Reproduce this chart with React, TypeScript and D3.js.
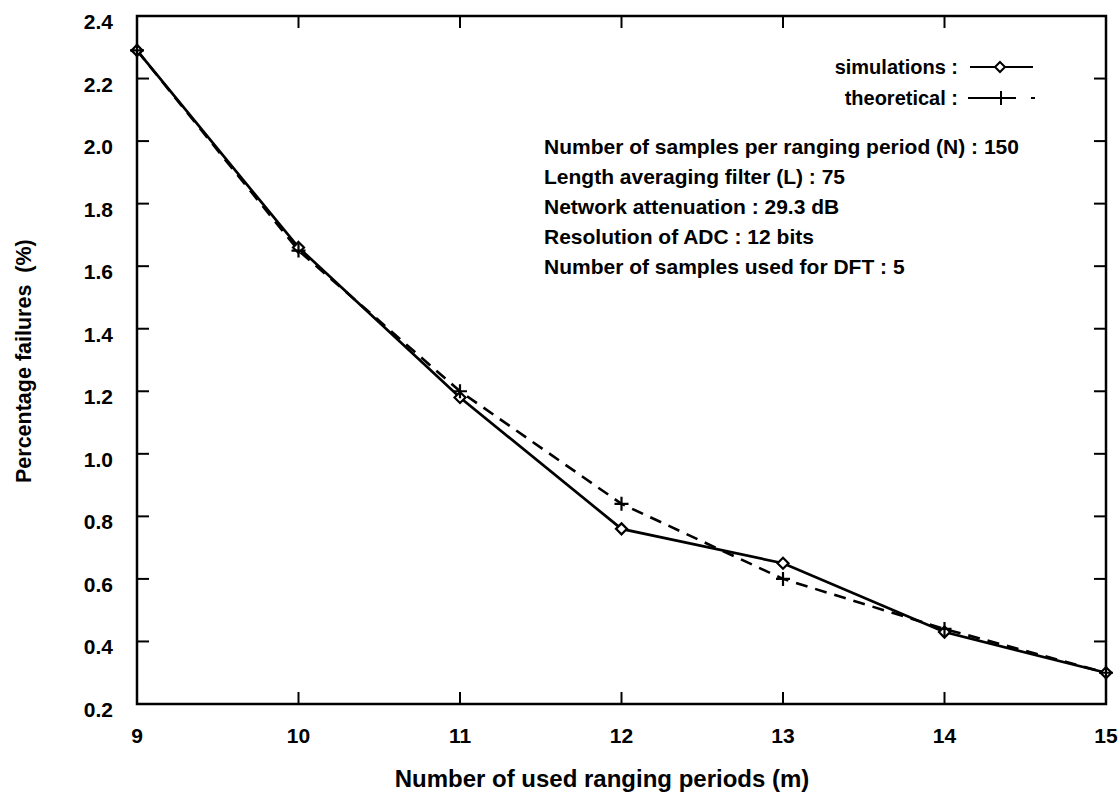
import React from "react";
import * as d3 from "d3";

const periods = [9, 10, 11, 12, 13, 14, 15];
const simulations = [2.29, 1.66, 1.18, 0.76, 0.65, 0.43, 0.30];
const theoretical = [2.29, 1.65, 1.20, 0.84, 0.60, 0.44, 0.30];
const xTicks = [9, 10, 11, 12, 13, 14, 15];
const yTicks = [0.2, 0.4, 0.6, 0.8, 1.0, 1.2, 1.4, 1.6, 1.8, 2.0, 2.2, 2.4];
const infoLines = [
  "Number of samples per ranging period (N) : 150",
  "Length averaging filter (L) : 75",
  "Network attenuation : 29.3 dB",
  "Resolution of ADC : 12 bits",
  "Number of samples used for DFT : 5",
];
const legendLabels = ["simulations :", "theoretical :"];

const W = 1119;
const H = 798;
const L = 137, R = 1106, T = 16, B = 704;
const FONT = "'Liberation Sans', Arial, Helvetica, sans-serif";

export default function App() {
  const x = d3.scaleLinear().domain([9, 15]).range([L, R]);
  const y = d3.scaleLinear().domain([0.2, 2.4]).range([B, T]);
  const seriesLine = d3
    .line<number>()
    .x((_, i) => x(periods[i]))
    .y((d) => y(d));
  const tick = 12;

  const diamond = (cx: number, cy: number, r = 5.5) =>
    `M${cx},${cy - r}L${cx + r},${cy}L${cx},${cy + r}L${cx - r},${cy}Z`;
  const plus = (cx: number, cy: number, r = 7) =>
    `M${cx - r},${cy}L${cx + r},${cy}M${cx},${cy - r}L${cx},${cy + r}`;

  const legY = [67, 98];

  return (
    <svg
      width={W}
      height={H}
      style={{ position: "absolute", left: 0, top: 0, background: "#fff" }}
      fontFamily={FONT}
      fontWeight="bold"
    >
      <rect x={0} y={0} width={W} height={H} fill="#fff" />
      {/* frame */}
      <rect x={L} y={T} width={R - L} height={B - T} fill="none" stroke="#000" strokeWidth={2.5} />
      {/* ticks */}
      {xTicks.map((t) => (
        <g key={"xt" + t}>
          <line x1={x(t)} x2={x(t)} y1={B} y2={B - tick} stroke="#000" strokeWidth={2} />
          <line x1={x(t)} x2={x(t)} y1={T} y2={T + tick} stroke="#000" strokeWidth={2} />
          <text x={x(t)} y={743} textAnchor="middle" fontSize={21} fill="#000">
            {t}
          </text>
        </g>
      ))}
      {yTicks.map((t) => (
        <g key={"yt" + t}>
          <line x1={L} x2={L + tick} y1={y(t)} y2={y(t)} stroke="#000" strokeWidth={2} />
          <line x1={R} x2={R - tick} y1={y(t)} y2={y(t)} stroke="#000" strokeWidth={2} />
          <text x={113} y={y(t) + 13} textAnchor="end" fontSize={21} fill="#000">
            {t.toFixed(1)}
          </text>
        </g>
      ))}
      {/* axis titles */}
      <text x={602} y={787} textAnchor="middle" fontSize={24} fill="#000">
        Number of used ranging periods (m)
      </text>
      <text
        transform={`translate(31,483) rotate(-90)`}
        textAnchor="start"
        fontSize={21.5}
        fill="#000"
        style={{ whiteSpace: "pre" }}
      >
        {"Percentage failures  (%)"}
      </text>
      {/* series */}
      <path d={seriesLine(theoretical) || ""} fill="none" stroke="#000" strokeWidth={2.6} strokeDasharray="12,8" />
      <path d={seriesLine(simulations) || ""} fill="none" stroke="#000" strokeWidth={2.7} />
      {simulations.map((v, i) => (
        <path key={"d" + i} d={diamond(x(periods[i]), y(v))} fill="#fff" stroke="#000" strokeWidth={2.2} />
      ))}
      {theoretical.map((v, i) => (
        <path key={"p" + i} d={plus(x(periods[i]), y(v))} fill="none" stroke="#000" strokeWidth={2.2} />
      ))}
      {/* legend */}
      {legendLabels.map((lab, i) => (
        <text key={lab} x={958} y={legY[i] + 7} textAnchor="end" fontSize={20} fill="#000">
          {lab}
        </text>
      ))}
      <line x1={970} x2={1033} y1={legY[0]} y2={legY[0]} stroke="#000" strokeWidth={2} />
      <path d={diamond(1000, legY[0], 5)} fill="#fff" stroke="#000" strokeWidth={2} />
      <line x1={968} x2={1016} y1={legY[1]} y2={legY[1]} stroke="#000" strokeWidth={2} />
      <line x1={1031} x2={1035} y1={legY[1]} y2={legY[1]} stroke="#000" strokeWidth={2} />
      <path d={plus(1001, legY[1], 7)} fill="none" stroke="#000" strokeWidth={2} />
      {/* info text */}
      {infoLines.map((s, i) => (
        <text key={s} x={544} y={154 + i * 30} fontSize={21} fill="#000">
          {s}
        </text>
      ))}
    </svg>
  );
}
